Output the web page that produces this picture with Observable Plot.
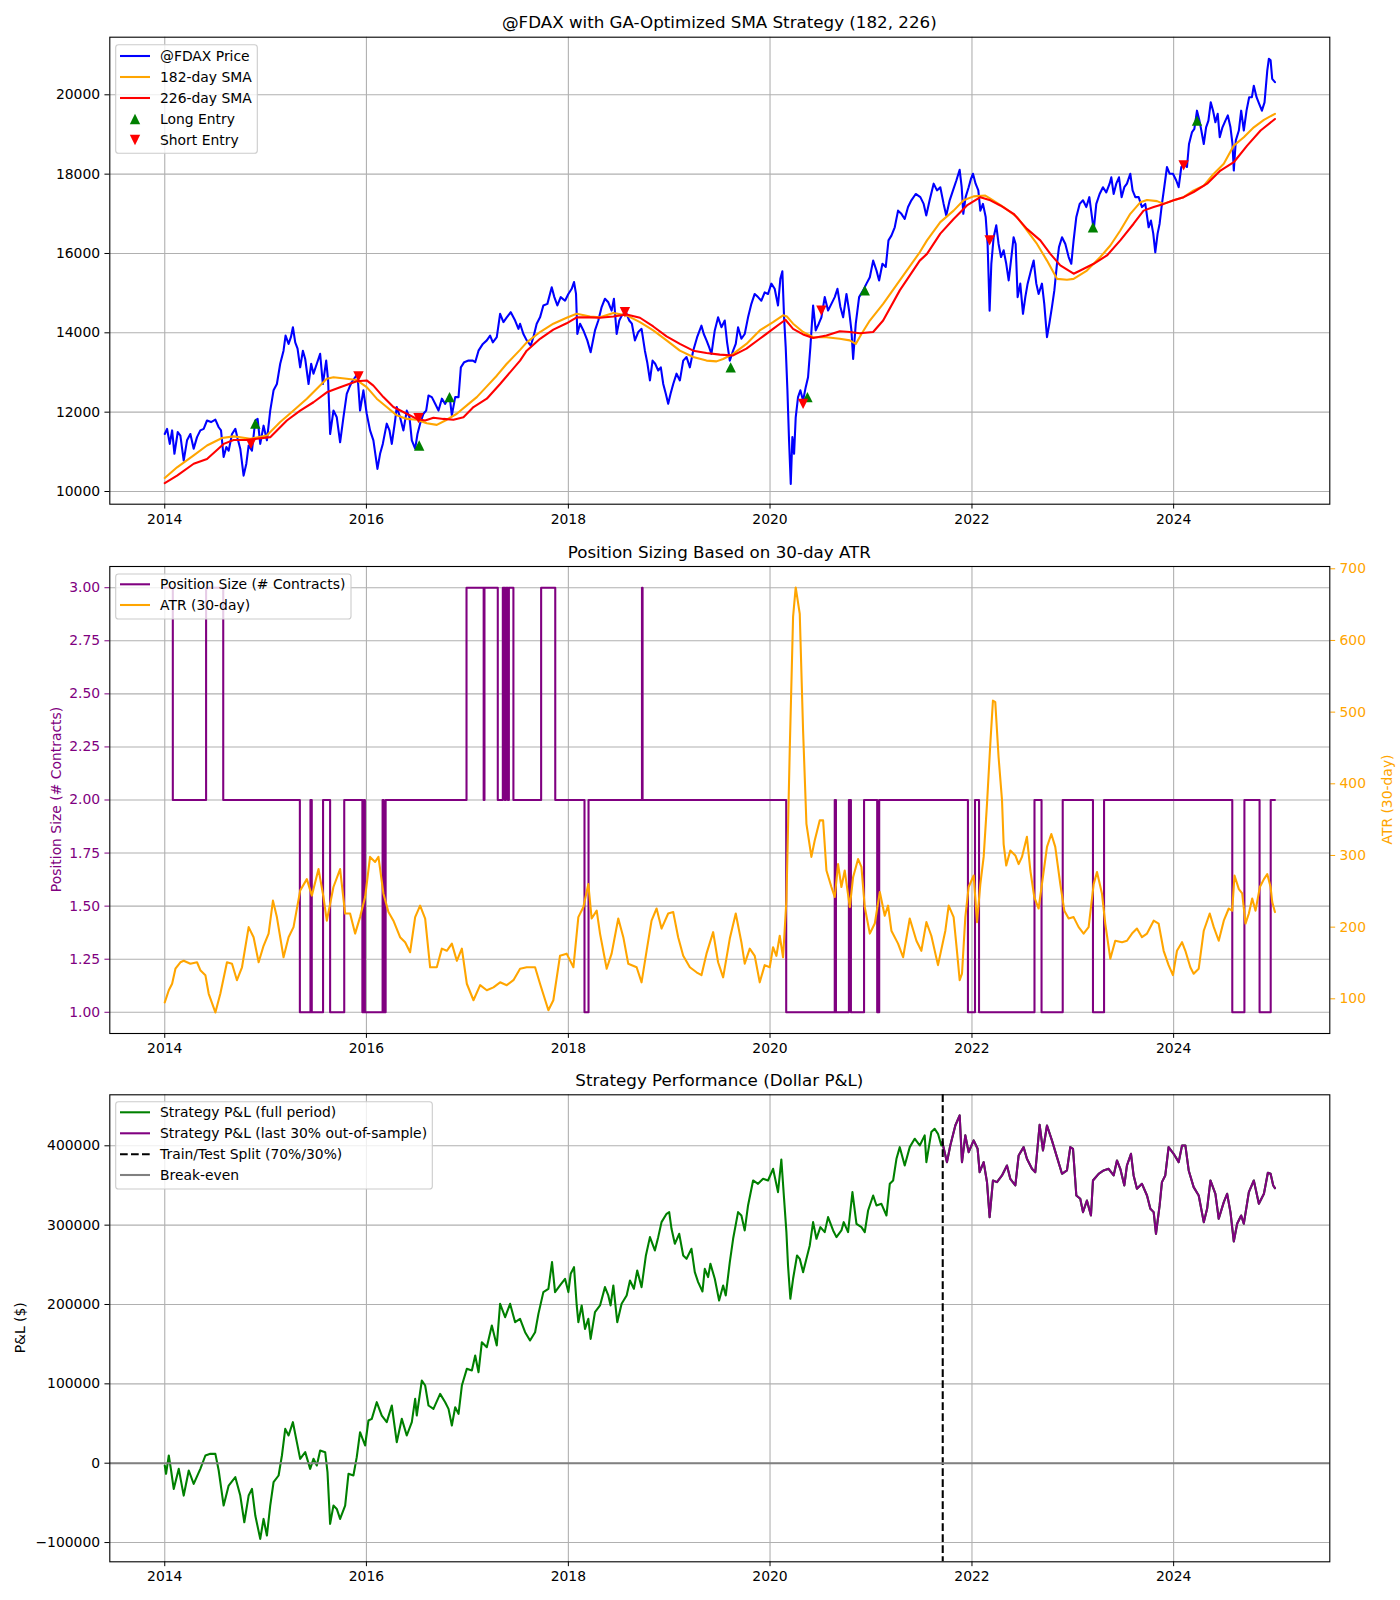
<!DOCTYPE html>
<html><head><meta charset="utf-8">
<script src="https://cdn.jsdelivr.net/npm/d3@7"></script>
<script src="https://cdn.jsdelivr.net/npm/@observablehq/plot@0.6"></script>
<style>
body{margin:0;background:#fff;}
#fig{position:relative;width:1400px;height:1600px;background:#fff;font-family:"DejaVu Sans",sans-serif;}
#fig svg{position:absolute;left:0;}
</style></head><body><div id="fig"></div>
<script>
// ---------- DATA (decimal year, value) ----------
const xTickYears = [2014, 2016, 2018, 2020, 2022, 2024];
const priceTicks = [10000, 12000, 14000, 16000, 18000, 20000];
const sizeTicks = [1.00, 1.25, 1.50, 1.75, 2.00, 2.25, 2.50, 2.75, 3.00];
const atrTicks = [100, 200, 300, 400, 500, 600, 700];
const pnlTicks = [-100000, 0, 100000, 200000, 300000, 400000];
const splitYear = 2021.71;

const price = [
[2014.000,11450],[2014.023,11580],[2014.050,11200],[2014.073,11540],[2014.096,10950],[2014.129,11500],[2014.155,11410],[2014.188,10780],[2014.221,11290],[2014.254,11450],[2014.287,11080],[2014.320,11370],[2014.353,11540],[2014.386,11580],[2014.419,11790],[2014.459,11750],[2014.502,11810],[2014.535,11620],[2014.558,11540],[2014.584,10870],[2014.611,11120],[2014.634,11030],[2014.667,11450],[2014.700,11580],[2014.723,11330],[2014.749,11080],[2014.782,10400],[2014.809,10700],[2014.832,11160],[2014.865,11030],[2014.898,11790],[2014.921,11830],[2014.947,11200],[2014.980,11660],[2015.013,11290],[2015.046,12040],[2015.079,12550],[2015.112,12710],[2015.145,13220],[2015.178,13550],[2015.198,13930],[2015.228,13720],[2015.251,13890],[2015.271,14140],[2015.294,13760],[2015.317,13600],[2015.343,13130],[2015.370,13550],[2015.393,13340],[2015.426,12710],[2015.452,13220],[2015.475,12970],[2015.508,13220],[2015.541,13470],[2015.568,12710],[2015.601,13300],[2015.620,12800],[2015.640,11450],[2015.673,12040],[2015.706,11870],[2015.739,11240],[2015.772,11870],[2015.805,12460],[2015.832,12630],[2015.855,12760],[2015.888,12880],[2015.911,12970],[2015.937,12040],[2015.970,12550],[2016.003,11960],[2016.036,11540],[2016.069,11290],[2016.109,10570],[2016.135,10950],[2016.162,11200],[2016.201,11710],[2016.228,11540],[2016.251,11200],[2016.284,11790],[2016.300,12130],[2016.333,11870],[2016.366,11540],[2016.399,12040],[2016.426,11870],[2016.449,11290],[2016.482,11080],[2016.505,11450],[2016.531,11710],[2016.564,11960],[2016.591,12040],[2016.614,12420],[2016.647,12380],[2016.680,12210],[2016.713,12040],[2016.746,12340],[2016.779,12210],[2016.822,12420],[2016.845,11920],[2016.878,12380],[2016.911,12380],[2016.934,13130],[2016.967,13260],[2017.010,13300],[2017.053,13300],[2017.076,13260],[2017.109,13550],[2017.152,13720],[2017.191,13810],[2017.224,13930],[2017.251,13760],[2017.290,13890],[2017.323,14480],[2017.356,14270],[2017.389,14390],[2017.429,14520],[2017.472,14310],[2017.505,14100],
[2017.521,14230],[2017.554,13970],[2017.587,13810],[2017.627,13680],[2017.653,13890],[2017.686,14230],[2017.719,14390],[2017.752,14690],[2017.792,14730],[2017.835,15150],[2017.861,14900],[2017.891,14690],[2017.924,14900],[2017.967,14810],[2018.000,14980],[2018.033,15110],[2018.056,15280],[2018.076,14980],[2018.089,13970],[2018.116,14230],[2018.149,14060],[2018.188,13810],[2018.221,13510],[2018.264,14060],[2018.297,14310],[2018.330,14650],[2018.363,14860],[2018.396,14770],[2018.429,14560],[2018.452,14860],[2018.479,13970],[2018.505,14310],[2018.531,14440],[2018.571,14520],[2018.604,14310],[2018.630,14230],[2018.660,13810],[2018.693,14020],[2018.726,14100],[2018.759,13550],[2018.782,13260],[2018.809,12800],[2018.835,13300],[2018.861,13220],[2018.891,13050],[2018.917,13130],[2018.941,12710],[2018.967,12460],[2018.990,12210],[2019.013,12460],[2019.040,12710],[2019.073,12970],[2019.106,12800],[2019.139,13300],[2019.172,13390],[2019.205,13130],[2019.238,13550],[2019.277,13890],[2019.320,14180],[2019.343,13970],[2019.370,13810],[2019.396,13640],[2019.419,13470],[2019.452,14060],[2019.485,14390],[2019.518,14140],[2019.551,14310],[2019.574,13760],[2019.601,13300],[2019.634,13550],[2019.660,13720],[2019.683,14140],[2019.716,13850],[2019.749,13970],[2019.782,14390],[2019.815,14730],[2019.848,14980],[2019.881,14900],[2019.914,14810],[2019.947,15020],[2019.980,14980],[2020.013,15240],[2020.046,15110],[2020.079,14690],[2020.102,15360],[2020.122,15550],[2020.139,14390],[2020.155,13640],[2020.172,12550],[2020.188,11290],[2020.205,10190],[2020.221,11370],[2020.238,10950],[2020.254,11870],[2020.277,12380],[2020.300,12550],[2020.327,12290],[2020.353,12630],[2020.376,12880],[2020.399,13640],[2020.426,14690],[2020.452,14060],[2020.482,14230],[2020.508,14390],[2020.541,14900],[2020.574,14560],[2020.607,14730],[2020.640,14900],[2020.667,15110],[2020.696,14650],[2020.723,14390],[2020.756,14980],[2020.782,14560],[2020.805,14060],[2020.822,13340],[2020.848,14230],[2020.881,14900],[2020.921,15070],[2020.954,15240],[2020.987,15400],[2021.020,15820],[2021.053,15570],[2021.079,15320],[2021.112,15740],[2021.145,15660],[2021.172,16330],[2021.201,16450],[2021.234,16660],[2021.267,17080],[2021.300,17000],[2021.333,16870],[2021.366,17170],[2021.399,17340],[2021.442,17500],
[2021.488,17420],[2021.521,17250],[2021.547,16960],[2021.580,17340],[2021.620,17760],[2021.653,17590],[2021.686,17670],[2021.719,17250],[2021.745,16960],[2021.779,17340],[2021.812,17590],[2021.845,17840],[2021.878,18110],[2021.898,17670],[2021.914,17000],[2021.937,17420],[2021.967,17670],[2021.990,17880],[2022.010,18010],[2022.036,17760],[2022.063,17590],[2022.083,17080],[2022.109,17250],[2022.136,16920],[2022.155,16240],[2022.175,14560],[2022.192,15740],[2022.215,16410],[2022.241,16710],[2022.264,16240],[2022.288,15910],[2022.314,16080],[2022.340,15740],[2022.364,15320],[2022.387,15820],[2022.413,16410],[2022.433,16240],[2022.453,14900],[2022.479,15240],[2022.506,14480],[2022.529,14900],[2022.552,15240],[2022.585,15570],[2022.612,15820],[2022.638,15240],[2022.661,14980],[2022.694,15240],[2022.717,14730],[2022.744,13890],[2022.767,14230],[2022.793,14650],[2022.817,15070],[2022.843,15740],[2022.863,16160],[2022.893,16410],[2022.926,16240],[2022.959,15910],[2022.985,15740],[2023.008,16330],[2023.035,16920],[2023.068,17250],[2023.101,17340],[2023.134,17170],[2023.164,17420],[2023.190,16920],[2023.207,16580],[2023.233,17250],[2023.266,17500],[2023.299,17670],[2023.332,17540],[2023.365,17760],[2023.382,17920],[2023.405,17500],[2023.431,17760],[2023.458,17920],[2023.484,17420],[2023.511,17670],[2023.537,17760],[2023.570,18010],[2023.593,17590],[2023.620,17420],[2023.653,17420],[2023.686,17170],[2023.719,17250],[2023.752,16660],[2023.775,16830],[2023.798,16500],[2023.818,16030],[2023.841,16500],[2023.861,16750],[2023.884,17250],[2023.907,17670],[2023.934,18180],[2023.960,18010],[2023.993,18010],[2024.026,17840],[2024.050,17670],[2024.076,18180],[2024.106,18260],[2024.132,18180],[2024.152,18760],[2024.182,19060],[2024.205,19140],[2024.231,19600],[2024.255,19350],[2024.274,19100],[2024.298,18760],[2024.321,19180],[2024.344,19350],[2024.367,19810],[2024.390,19600],[2024.413,19310],[2024.436,19520],[2024.456,18930],[2024.483,19180],[2024.512,19350],[2024.536,19480],[2024.562,19180],[2024.582,18760],[2024.595,18090],[2024.615,18850],[2024.645,19100],[2024.668,19600],[2024.694,19100],[2024.721,19600],[2024.747,19940],[2024.774,19940],[2024.793,20230],[2024.820,19940],[2024.846,19770],[2024.873,19600],[2024.899,19810],[2024.926,20610],[2024.942,20910],[2024.959,20870],[2024.975,20400],[2025.002,20320]
];

const sma182 = [
[2014.000,10340],[2014.122,10610],[2014.287,10910],[2014.419,11160],[2014.568,11350],[2014.683,11390],[2014.848,11330],[2015.013,11410],[2015.145,11750],[2015.277,12040],[2015.409,12340],[2015.508,12590],[2015.607,12840],[2015.673,12880],[2015.805,12840],[2015.904,12810],[2016.003,12630],[2016.102,12340],[2016.201,12130],[2016.300,11920],[2016.399,11830],[2016.498,11810],[2016.597,11720],[2016.696,11680],[2016.795,11810],[2016.894,11960],[2016.993,12170],[2017.092,12380],[2017.191,12650],[2017.290,12920],[2017.389,13220],[2017.521,13570],
[2017.587,13760],[2017.719,14020],[2017.851,14230],[2017.983,14380],[2018.083,14480],[2018.215,14410],[2018.314,14390],[2018.446,14500],[2018.578,14440],[2018.710,14270],[2018.842,14060],[2018.974,13810],[2019.106,13550],[2019.238,13390],[2019.370,13300],[2019.469,13280],[2019.535,13340],[2019.634,13470],[2019.766,13720],[2019.898,14060],[2020.030,14270],[2020.129,14440],[2020.168,14410],[2020.228,14230],[2020.327,14020],[2020.426,13890],[2020.558,13890],[2020.690,13850],[2020.789,13810],[2020.848,13720],[2020.904,13970],[2020.987,14310],[2021.119,14730],[2021.284,15320],[2021.482,16030],
[2021.554,16330],[2021.686,16790],[2021.818,17080],[2021.917,17340],[2022.017,17440],[2022.132,17460],[2022.182,17380],[2022.314,17170],[2022.446,16920],[2022.545,16580],[2022.645,16240],[2022.744,15820],[2022.843,15360],[2022.942,15340],[2023.008,15360],[2023.140,15570],[2023.273,15910],[2023.372,16200],[2023.471,16580],[2023.570,17000],[2023.669,17290],[2023.736,17350],[2023.835,17320],[2023.901,17250],[2024.000,17340],[2024.099,17420],[2024.198,17590],[2024.298,17710],[2024.397,18010],[2024.496,18260],[2024.595,18720],[2024.694,18930],[2024.793,19180],[2024.893,19370],[2025.002,19520]
];

const sma226 = [
[2014.000,10210],[2014.122,10400],[2014.287,10700],[2014.419,10820],[2014.584,11200],[2014.683,11300],[2014.815,11300],[2014.914,11330],[2015.046,11370],[2015.211,11790],[2015.343,12040],[2015.475,12250],[2015.607,12500],[2015.739,12630],[2015.904,12780],[2016.003,12800],[2016.069,12670],[2016.168,12380],[2016.267,12130],[2016.399,11960],[2016.498,11830],[2016.581,11790],[2016.663,11860],[2016.762,11830],[2016.861,11810],[2016.960,11870],[2017.059,12130],[2017.191,12340],[2017.323,12710],[2017.521,13300],
[2017.587,13550],[2017.719,13850],[2017.851,14080],[2017.983,14240],[2018.083,14390],[2018.215,14390],[2018.314,14380],[2018.446,14410],[2018.578,14460],[2018.710,14380],[2018.842,14160],[2018.974,13910],[2019.106,13720],[2019.238,13550],[2019.370,13490],[2019.502,13450],[2019.634,13430],[2019.766,13600],[2019.898,13850],[2020.030,14100],[2020.152,14330],[2020.228,14100],[2020.327,13960],[2020.426,13870],[2020.558,13930],[2020.690,14040],[2020.789,14020],[2020.888,13990],[2021.020,14020],[2021.119,14310],[2021.284,15070],[2021.482,15820],
[2021.554,15990],[2021.686,16500],[2021.818,16870],[2021.950,17210],[2022.083,17420],[2022.182,17340],[2022.281,17210],[2022.413,17000],[2022.545,16620],[2022.678,16330],[2022.777,15990],[2022.876,15700],[2023.008,15490],[2023.074,15570],[2023.207,15740],[2023.339,15950],[2023.471,16330],[2023.603,16750],[2023.702,17080],[2023.802,17170],[2023.901,17250],[2024.000,17340],[2024.099,17420],[2024.198,17550],[2024.331,17760],[2024.463,18090],[2024.595,18300],[2024.727,18720],[2024.860,19100],[2025.002,19390]
];

const longEntries = [[2014.898,11710],[2016.522,11160],[2016.822,12380],[2019.610,13130],[2020.370,12380],[2020.937,15070],[2023.200,16660],[2024.231,19350]];
const shortEntries = [[2014.855,11200],[2015.921,12900],[2016.515,11850],[2018.561,14520],[2020.327,12210],[2020.508,14560],[2022.175,16330],[2024.099,18220]];

// position size: [start year, contracts] (step-after)
const positionSize = [
[2014.000,3],[2014.080,2],[2014.410,3],[2014.580,2],[2015.340,1],[2015.445,2],[2015.458,1],[2015.570,2],[2015.640,1],[2015.780,2],[2015.960,1],[2015.975,2],[2015.985,1],[2016.160,2],[2016.170,1],[2016.190,2],[2016.990,3],[2017.160,2],[2017.168,3],[2017.300,2],[2017.350,3],[2017.370,2],[2017.380,3],[2017.400,2],[2017.410,3],[2017.455,2],[2017.730,3],[2017.870,2],[2018.160,1],[2018.200,2],[2018.730,3],[2018.736,2],[2020.160,1],[2020.640,2],[2020.652,1],[2020.780,2],[2020.800,1],[2020.930,2],[2021.060,1],[2021.080,2],[2021.960,1],[2022.030,2],[2022.070,1],[2022.620,2],[2022.690,1],[2022.900,2],[2023.200,1],[2023.310,2],[2024.580,1],[2024.700,2],[2024.850,1],[2024.960,2],[2025.002,2]
];

const atr30 = [
[2014.000,95],[2014.040,112],[2014.073,121],[2014.106,142],[2014.155,151],[2014.188,153],[2014.254,149],[2014.320,151],[2014.353,140],[2014.403,133],[2014.436,107],[2014.502,81],[2014.551,107],[2014.617,151],[2014.667,149],[2014.716,126],[2014.766,144],[2014.832,200],[2014.881,186],[2014.931,151],[2014.980,174],[2015.030,191],[2015.073,237],[2015.112,214],[2015.178,158],[2015.228,186],[2015.277,200],[2015.343,251],[2015.409,267],[2015.459,244],[2015.525,281],[2015.574,242],[2015.607,209],[2015.673,256],[2015.739,281],[2015.789,219],[2015.838,219],[2015.888,191],[2015.937,214],[2015.987,242],[2016.036,298],[2016.086,291],[2016.119,298],[2016.168,247],[2016.218,221],[2016.267,209],[2016.333,186],[2016.383,179],[2016.432,165],[2016.482,214],[2016.531,230],[2016.581,212],[2016.630,144],[2016.696,144],[2016.746,170],[2016.795,167],[2016.845,177],[2016.894,153],[2016.944,170],[2016.993,121],[2017.059,98],[2017.125,119],[2017.191,112],[2017.257,116],[2017.323,123],[2017.389,119],[2017.455,126],[2017.521,142],[2017.587,144],[2017.670,144],[2017.719,121],[2017.802,84],[2017.851,98],
[2017.917,160],[2017.983,163],[2018.050,144],[2018.099,214],[2018.149,228],[2018.198,260],[2018.231,212],[2018.281,223],[2018.314,191],[2018.380,142],[2018.429,163],[2018.495,212],[2018.545,186],[2018.594,149],[2018.677,144],[2018.726,123],[2018.776,167],[2018.825,209],[2018.875,226],[2018.924,198],[2018.990,219],[2019.040,221],[2019.089,186],[2019.139,160],[2019.205,144],[2019.271,137],[2019.320,133],[2019.370,163],[2019.436,193],[2019.485,151],[2019.535,130],[2019.601,184],[2019.660,219],[2019.716,179],[2019.749,149],[2019.799,170],[2019.848,160],[2019.898,123],[2019.947,147],[2019.997,144],[2020.030,172],[2020.063,160],[2020.096,188],[2020.129,158],[2020.162,237],[2020.195,447],[2020.228,633],[2020.254,674],[2020.294,637],[2020.327,474],[2020.360,344],[2020.409,298],[2020.442,321],[2020.492,349],[2020.525,349],[2020.558,279],[2020.607,256],[2020.640,242],[2020.673,288],[2020.706,256],[2020.739,279],[2020.789,228],[2020.822,270],[2020.871,295],[2020.904,284],[2020.937,228],[2020.987,191],[2021.036,205],[2021.086,249],[2021.135,216],[2021.168,230],[2021.201,195],[2021.267,177],[2021.317,158],[2021.383,212],[2021.449,181],[2021.498,167],[2021.548,207],[2021.597,188],[2021.663,147],
[2021.736,195],[2021.769,230],[2021.818,214],[2021.851,167],[2021.878,126],[2021.901,135],[2021.934,214],[2021.967,256],[2022.017,272],[2022.050,207],[2022.083,260],[2022.116,298],[2022.149,372],[2022.182,456],[2022.208,516],[2022.231,514],[2022.264,437],[2022.298,377],[2022.314,316],[2022.340,286],[2022.380,307],[2022.430,300],[2022.463,288],[2022.496,298],[2022.545,326],[2022.579,279],[2022.618,242],[2022.661,226],[2022.694,260],[2022.744,312],[2022.787,330],[2022.826,312],[2022.876,260],[2022.916,223],[2022.959,212],[2023.008,214],[2023.058,200],[2023.107,191],[2023.157,200],[2023.207,260],[2023.240,277],[2023.289,247],[2023.322,205],[2023.372,156],[2023.421,181],[2023.488,179],[2023.537,181],[2023.587,191],[2023.636,198],[2023.686,186],[2023.736,191],[2023.802,209],[2023.851,205],[2023.901,167],[2023.950,147],[2023.993,133],[2024.033,167],[2024.083,179],[2024.116,167],[2024.165,144],[2024.198,135],[2024.248,142],[2024.298,195],[2024.357,219],[2024.397,200],[2024.446,181],[2024.496,209],[2024.545,226],[2024.579,223],[2024.602,272],[2024.645,253],[2024.678,247],[2024.711,205],[2024.744,219],[2024.777,240],[2024.810,223],[2024.853,256],[2024.893,267],[2024.926,274],[2024.959,256],[2024.975,235],[2025.002,221]
];

const pnl = [
[2014.000,-2900],[2014.013,-13400],[2014.040,9700],[2014.063,-9200],[2014.089,-32400],[2014.139,-7100],[2014.188,-40800],[2014.238,-9200],[2014.287,-26100],[2014.353,-7100],[2014.403,9700],[2014.452,11800],[2014.502,11800],[2014.535,-9200],[2014.584,-53400],[2014.634,-28200],[2014.700,-17600],[2014.749,-40800],[2014.789,-74400],[2014.832,-40800],[2014.865,-32400],[2014.898,-66000],[2014.947,-95400],[2014.980,-70200],[2015.013,-91200],[2015.046,-53400],[2015.079,-24000],[2015.129,-15500],[2015.162,9700],[2015.195,43300],[2015.228,34900],[2015.271,51700],[2015.310,26500],[2015.343,5500],[2015.393,13900],[2015.442,-7100],[2015.475,5500],[2015.508,-2900],[2015.541,16000],[2015.591,13900],[2015.614,-11300],[2015.640,-76500],[2015.673,-53400],[2015.706,-57600],[2015.739,-70200],[2015.789,-53400],[2015.822,-13400],[2015.871,-15500],[2015.904,7600],[2015.937,39100],[2015.987,22300],[2016.020,53800],[2016.053,55900],[2016.102,76900],[2016.152,60100],[2016.201,51700],[2016.251,72700],[2016.300,26500],[2016.350,55900],[2016.399,34900],[2016.449,51700],[2016.482,81100],[2016.498,60100],[2016.548,104200],[2016.581,97900],[2016.614,72700],[2016.663,68500],[2016.729,87400],[2016.779,76900],[2016.812,68500],[2016.845,47500],[2016.878,70600],[2016.911,62200],[2016.944,97900],[2016.993,118900],[2017.043,116800],[2017.076,135700],[2017.109,114700],[2017.142,152500],[2017.191,146200],[2017.241,173500],[2017.290,148300],[2017.323,200900],[2017.373,184000],[2017.422,200900],[2017.472,177700],[2017.521,181900],[2017.571,165100],[2017.620,154600],[2017.670,165100],[2017.703,188200],[2017.752,215600],[2017.802,219800],[2017.838,253400],[2017.868,215600],
[2017.917,224000],[2017.967,232400],[2018.000,215600],[2018.023,238700],[2018.056,247100],[2018.083,198800],[2018.099,177700],[2018.132,198800],[2018.165,169300],[2018.198,181900],[2018.221,156700],[2018.264,190400],[2018.314,198800],[2018.363,221900],[2018.396,211400],[2018.419,198800],[2018.446,224000],[2018.485,177700],[2018.528,200900],[2018.578,211400],[2018.611,230300],[2018.650,219800],[2018.683,242900],[2018.726,221900],[2018.769,261800],[2018.809,284900],[2018.858,268100],[2018.891,284900],[2018.924,303800],[2018.974,314300],[2019.000,316400],[2019.023,295400],[2019.056,276500],[2019.099,289100],[2019.139,261800],[2019.172,257600],[2019.221,270200],[2019.254,240800],[2019.287,228200],[2019.330,216400],[2019.353,245000],[2019.386,234500],[2019.409,251300],[2019.452,232400],[2019.495,205100],[2019.535,224000],[2019.561,211400],[2019.601,253400],[2019.634,282800],[2019.683,316400],[2019.716,312200],[2019.749,293300],[2019.782,324800],[2019.832,356300],[2019.881,352100],[2019.931,358400],[2019.980,356300],[2020.030,371000],[2020.079,341600],[2020.112,382800],[2020.139,333200],[2020.162,291200],[2020.178,249200],[2020.201,207200],[2020.228,232400],[2020.267,261800],[2020.294,257600],[2020.327,240800],[2020.360,257600],[2020.393,274400],[2020.426,303800],[2020.459,282800],[2020.498,297500],[2020.541,291200],[2020.574,310100],[2020.624,293300],[2020.657,284900],[2020.706,293300],[2020.729,303800],[2020.772,291200],[2020.815,341600],[2020.855,301700],[2020.904,297500],[2020.937,291200],[2020.970,318500],[2021.020,337400],[2021.053,324800],[2021.102,326900],[2021.152,312200],[2021.185,352100],[2021.218,356300],[2021.251,383600],[2021.284,398300],[2021.333,375200],[2021.383,398300],[2021.432,408900],[2021.482,400400],[2021.531,413100],[2021.548,379400],[2021.597,417300],[2021.630,421500],[2021.663,415100],[2021.696,400400],
[2021.706,404600],[2021.729,392000],[2021.752,379400],[2021.785,400400],[2021.835,425600],[2021.878,438300],[2021.901,379400],[2021.934,413100],[2021.967,392000],[2022.017,406800],[2022.056,396200],[2022.076,366800],[2022.116,379400],[2022.149,354200],[2022.175,310100],[2022.208,356300],[2022.248,354200],[2022.298,362600],[2022.347,375200],[2022.380,358400],[2022.430,350000],[2022.463,387800],[2022.512,398300],[2022.545,383600],[2022.595,371000],[2022.628,366800],[2022.671,426500],[2022.704,394100],[2022.744,425600],[2022.793,406800],[2022.843,385700],[2022.893,364700],[2022.942,368900],[2022.975,398300],[2023.002,396200],[2023.035,337400],[2023.074,333200],[2023.101,316400],[2023.140,331100],[2023.180,312200],[2023.200,356300],[2023.256,364700],[2023.306,368900],[2023.355,371000],[2023.405,362600],[2023.438,381500],[2023.471,371000],[2023.511,350000],[2023.537,375200],[2023.577,389900],[2023.603,362600],[2023.636,345800],[2023.686,352100],[2023.736,337400],[2023.769,320600],[2023.802,316400],[2023.825,289100],[2023.861,324800],[2023.884,354200],[2023.917,362600],[2023.950,398300],[2024.000,389900],[2024.050,379400],[2024.083,400400],[2024.116,400400],[2024.149,368900],[2024.198,347900],[2024.248,337400],[2024.298,303800],[2024.331,320600],[2024.364,356300],[2024.413,339500],[2024.446,308000],[2024.496,329000],[2024.529,339500],[2024.562,316400],[2024.595,279400],[2024.628,301700],[2024.668,312200],[2024.694,301700],[2024.744,341600],[2024.793,356300],[2024.843,326900],[2024.893,339500],[2024.932,366000],[2024.959,364700],[2024.985,350000],[2025.002,346700]
];

// ---------- HELPERS ----------
function dy(v){const Y=Math.floor(v);const s=Date.UTC(Y,0,1),e=Date.UTC(Y+1,0,1);return new Date(s+(v-Y)*(e-s));}
const fig=document.getElementById("fig");
const W=1400, ML=109.3, MR=70.7, FS=13.9, TICK=4.86;
const FONT='"DejaVu Sans", sans-serif';
const GRID={stroke:"#b0b0b0",strokeOpacity:1,strokeWidth:1.1};
const xDomain=[dy(2013.455),dy(2025.546)];
const xTicks=xTickYears.map(y=>new Date(Date.UTC(y,0,1)));
const baseStyle={fontFamily:FONT,fontSize:FS+"px",background:"transparent",overflow:"visible",color:"black"};
const triUp={draw(ctx){ctx.moveTo(0,-5.2);ctx.lineTo(5.2,5.2);ctx.lineTo(-5.2,5.2);ctx.closePath();}};
const triDown={draw(ctx){ctx.moveTo(0,5.2);ctx.lineTo(5.2,-5.2);ctx.lineTo(-5.2,-5.2);ctx.closePath();}};
const X=d=>dy(d[0]), Y=d=>d[1];
function place(svg,top){svg.style.top=top+"px";fig.appendChild(svg);return svg;}
function xAxis(){return Plot.axisX(xTicks,{tickFormat:d=>String(d.getUTCFullYear()),tickSize:TICK,tickPadding:4.86,fontSize:FS,label:null});}
function text(svg,x,y,t,o={}){
  const el=d3.select(svg).append("text").attr("x",x).attr("y",y).attr("text-anchor",o.anchor||"middle")
   .attr("font-family",FONT).attr("font-size",(o.size||FS)+"px").attr("fill",o.fill||"black").text(t);
  if(o.baseline) el.attr("dominant-baseline",o.baseline);
  if(o.rotate) el.attr("transform",`rotate(${o.rotate},${x},${y})`);
  return el;
}
function legend(svg,x0,y0,w,h,rows){
  const g=d3.select(svg).append("g");
  g.append("rect").attr("x",x0).attr("y",y0).attr("width",w).attr("height",h).attr("rx",2.8)
   .attr("fill","white").attr("fill-opacity",0.8).attr("stroke","#cccccc").attr("stroke-width",1.1);
  rows.forEach(r=>{
    if(r.type==="line"||r.type==="dash"){
      const l=g.append("line").attr("x1",x0+4.3).attr("x2",x0+34.3).attr("y1",r.y).attr("y2",r.y).attr("stroke",r.color).attr("stroke-width",2.08);
      if(r.type==="dash") l.attr("stroke-dasharray","7.7,3.3");
    } else {
      const p=r.type==="up"?`M0,-5.2L5.2,5.2L-5.2,5.2Z`:`M0,5.2L5.2,-5.2L-5.2,-5.2Z`;
      g.append("path").attr("d",p).attr("fill",r.color).attr("transform",`translate(${x0+19.3},${r.y})`);
    }
    text(svg,x0+44.3,r.y,r.label,{anchor:"start",baseline:"central"});
  });
}

// ---------- PANEL 1 ----------
{
  const H=540, top=0;
  const svg=Plot.plot({width:W,height:H,marginLeft:ML,marginRight:MR,marginTop:36.7,marginBottom:H-503.7,style:baseStyle,
    x:{type:"utc",domain:xDomain},y:{domain:[9680,21452]},
    marks:[
      Plot.gridX(xTicks,GRID),Plot.gridY(priceTicks,GRID),
      Plot.line(price,{x:X,y:Y,stroke:"blue",strokeWidth:2.08}),
      Plot.line(sma182,{x:X,y:Y,stroke:"orange",strokeWidth:2.08}),
      Plot.line(sma226,{x:X,y:Y,stroke:"red",strokeWidth:2.08}),
      Plot.dot(longEntries,{x:X,y:Y,symbol:triUp,fill:"green",stroke:null,r:5}),
      Plot.dot(shortEntries,{x:X,y:Y,symbol:triDown,fill:"red",stroke:null,r:5}),
      xAxis(),
      Plot.axisY(priceTicks,{tickFormat:d=>String(d),tickSize:TICK,tickPadding:4.86,fontSize:FS,label:null}),
      Plot.frame({stroke:"black",strokeWidth:1.1})
    ]});
  place(svg,top);
  text(svg,719.3,28.4,"@FDAX with GA-Optimized SMA Strategy (182, 226)",{size:16.7});
  legend(svg,115.7,44.7,141.6,108.6,[
    {type:"line",color:"blue",label:"@FDAX Price",y:56},
    {type:"line",color:"orange",label:"182-day SMA",y:77},
    {type:"line",color:"red",label:"226-day SMA",y:98},
    {type:"up",color:"green",label:"Long Entry",y:119},
    {type:"down",color:"red",label:"Short Entry",y:140}
  ]);
}

// ---------- PANEL 2 ----------
{
  const H=530, top=540, MT=26, MB=H-493;
  const svgA=Plot.plot({width:W,height:H,marginLeft:ML,marginRight:MR,marginTop:MT,marginBottom:MB,style:baseStyle,
    x:{type:"utc",domain:xDomain},y:{domain:[0.9,3.1]},
    marks:[
      Plot.gridX(xTicks,GRID),Plot.gridY(sizeTicks,GRID),
      Plot.line(positionSize,{x:X,y:Y,stroke:"purple",strokeWidth:2.08,curve:"step-after"}),
      xAxis(),
      Plot.axisY(sizeTicks,{tickFormat:d3.format(".2f"),tickSize:TICK,tickPadding:4.86,fontSize:FS,label:null,color:"purple"})
    ]});
  place(svgA,top);
  text(svgA,719.3,17.7,"Position Sizing Based on 30-day ATR",{size:16.7});
  text(svgA,55.5,259.5,"Position Size (# Contracts)",{rotate:-90,baseline:"central",fill:"purple"});
  const svgB=Plot.plot({width:W,height:H,marginLeft:ML,marginRight:MR,marginTop:MT,marginBottom:MB,style:baseStyle,
    x:{type:"utc",domain:xDomain,axis:null},y:{domain:[51.6,703.2]},
    marks:[
      Plot.line(atr30,{x:X,y:Y,stroke:"orange",strokeWidth:2.08}),
      Plot.axisY(atrTicks,{anchor:"right",tickFormat:d=>String(d),tickSize:TICK,tickPadding:4.86,fontSize:FS,label:null,color:"orange"}),
      Plot.frame({stroke:"black",strokeWidth:1.1})
    ]});
  place(svgB,top);
  text(svgB,1386.5,259.5,"ATR (30-day)",{rotate:-90,baseline:"central",fill:"orange"});
  legend(svgB,115.7,34,235.3,45,[
    {type:"line",color:"purple",label:"Position Size (# Contracts)",y:44.3},
    {type:"line",color:"orange",label:"ATR (30-day)",y:65}
  ]);
}

// ---------- PANEL 3 ----------
{
  const H=530, top=1070;
  const oos=pnl.filter(d=>d[0]>=splitYear-0.005);
  const svg=Plot.plot({width:W,height:H,marginLeft:ML,marginRight:MR,marginTop:24.3,marginBottom:H-491.3,style:baseStyle,
    x:{type:"utc",domain:xDomain},y:{domain:[-124260,464270]},
    marks:[
      Plot.gridX(xTicks,GRID),Plot.gridY(pnlTicks,GRID),
      Plot.line(pnl,{x:X,y:Y,stroke:"green",strokeWidth:2.08}),
      Plot.line(oos,{x:X,y:Y,stroke:"purple",strokeWidth:2.08}),
      Plot.ruleX([dy(splitYear)],{stroke:"black",strokeWidth:2.08,strokeDasharray:"7.7,3.3"}),
      Plot.ruleY([0],{stroke:"gray",strokeWidth:2.08}),
      xAxis(),
      Plot.axisY(pnlTicks,{tickFormat:d3.format("d"),tickSize:TICK,tickPadding:4.86,fontSize:FS,label:null}),
      Plot.frame({stroke:"black",strokeWidth:1.1})
    ]});
  place(svg,top);
  text(svg,719.3,16,"Strategy Performance (Dollar P&L)",{size:16.7});
  text(svg,20.5,257.8,"P&L ($)",{rotate:-90,baseline:"central"});
  legend(svg,115.7,31.7,316.6,87.3,[
    {type:"line",color:"green",label:"Strategy P&L (full period)",y:42.3},
    {type:"line",color:"purple",label:"Strategy P&L (last 30% out-of-sample)",y:63.3},
    {type:"dash",color:"black",label:"Train/Test Split (70%/30%)",y:84.3},
    {type:"line",color:"gray",label:"Break-even",y:105}
  ]);
}
</script></body></html>
